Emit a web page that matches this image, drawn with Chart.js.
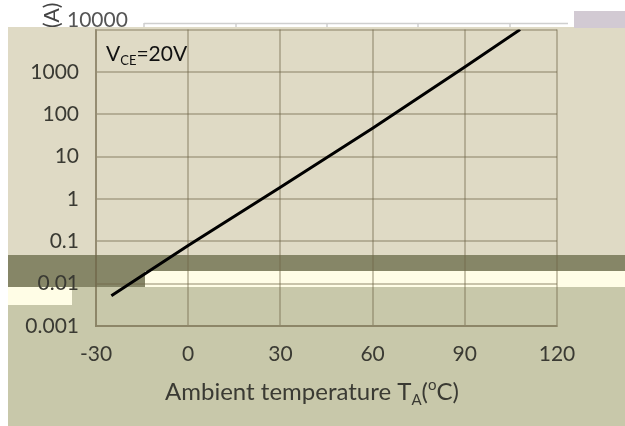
<!DOCTYPE html>
<html>
<head>
<meta charset="utf-8">
<script src="https://cdn.jsdelivr.net/npm/chart.js@4/dist/chart.umd.min.js"></script>
<style>
    body { margin: 0; background: #ffffff; }
    #wrap { width: 625px; height: 426px; position: relative; }
</style>
</head>
<body>
<div id="wrap"><canvas id="chart"></canvas></div>
<script>
// readings taken off the reference curve
const temps = [-25, 0, 30, 60, 90, 108];
const current = [0.0052, 0.08, 1.9, 47, 1300, 10000];

const xTicks = [-30, 0, 30, 60, 90, 120];
const yTicks = [0.001, 0.01, 0.1, 1, 10, 100, 1000, 10000];

const fontFamily = 'Lato, "Open Sans", sans-serif';
const tickFont = { family: fontFamily, size: 21 };
const textColor = '#3a3a33';

// paints the patchy background of the scanned figure
const backdrop = {
    id: 'backdrop',
    beforeDraw(chart) {
        const ctx = chart.ctx;
        ctx.save();
        ctx.fillStyle = '#ffffff';
        ctx.fillRect(0, 0, 625, 426);
        ctx.fillStyle = '#dfdac5';
        ctx.fillRect(8, 27, 617, 228);
        ctx.fillStyle = '#868667';
        ctx.fillRect(8, 255, 617, 16);
        ctx.fillRect(8, 271, 137, 16);
        ctx.fillStyle = '#fffde6';
        ctx.fillRect(145, 271, 480, 16);
        ctx.fillStyle = '#c8c8aa';
        ctx.fillRect(8, 287, 617, 139);
        ctx.fillStyle = '#fffde6';
        ctx.fillRect(8, 287, 64, 18);
        ctx.restore();
    }
};

// subscripted labels that Chart.js titles can't do, plus the torn top strip
const labels = {
    id: 'labels',
    afterDraw(chart) {
        const ctx = chart.ctx;
        ctx.save();

        // white strip across the top
        ctx.fillStyle = '#ffffff';
        ctx.fillRect(0, 0, 625, 27);
        ctx.fillStyle = '#d2cad3';
        ctx.fillRect(574, 11, 51, 17);
        ctx.strokeStyle = '#cfcfcf';
        ctx.lineWidth = 1.5;
        ctx.beginPath();
        ctx.moveTo(144, 23.5);
        ctx.lineTo(568, 23.5);
        [144, 236, 327, 418, 510].forEach(gx => {
            ctx.moveTo(gx, 23);
            ctx.lineTo(gx, 27);
        });
        ctx.stroke();
        ctx.fillStyle = '#555555';
        ctx.font = '21px ' + fontFamily;
        ctx.textBaseline = 'middle';
        ctx.fillText('10000', 67, 20);

        ctx.save();
        ctx.beginPath();
        ctx.rect(0, 0, 66, 27);
        ctx.clip();
        ctx.translate(52, 20);
        ctx.rotate(-Math.PI / 2);
        ctx.font = '21px ' + fontFamily;
        ctx.fillStyle = '#444444';
        ctx.fillText('(A)', -8, 0);
        ctx.restore();

        ctx.textBaseline = 'alphabetic';
        ctx.fillStyle = '#111111';
        let x = 106;
        ctx.font = '21px ' + fontFamily;
        ctx.fillText('V', x, 61);
        x += ctx.measureText('V').width;
        ctx.font = '13px ' + fontFamily;
        ctx.fillText('CE', x, 65);
        x += ctx.measureText('CE').width;
        ctx.font = '21px ' + fontFamily;
        ctx.fillText('=20V', x, 61);

        // x axis title
        ctx.fillStyle = textColor;
        const big = '24px ' + fontFamily;
        const small = '15px ' + fontFamily;
        const parts = [
            ['Ambient temperature T', big, 0],
            ['A', small, 5],
            ['(', big, 0],
            ['o', small, -10],
            ['C)', big, 0]
        ];
        let w = 0;
        parts.forEach(p => { ctx.font = p[1]; w += ctx.measureText(p[0]).width; });
        x = 312 - w / 2;
        parts.forEach(p => {
            ctx.font = p[1];
            ctx.fillText(p[0], x, 400 + p[2]);
            x += ctx.measureText(p[0]).width;
        });
        ctx.restore();
    }
};

new Chart(document.getElementById('chart'), {
    type: 'scatter',
    data: {
        datasets: [{
            data: temps.map((t, i) => ({ x: t, y: current[i] })),
            showLine: true,
            borderColor: '#000000',
            borderWidth: 3,
            pointRadius: 0,
            fill: false
        }]
    },
    options: {
        responsive: true,
        maintainAspectRatio: false,
        animation: false,
        layout: { padding: { top: 22, right: 68, bottom: 0, left: 0 } },
        plugins: {
            legend: { display: false },
            tooltip: { enabled: false }
        },
        scales: {
            x: {
                type: 'linear',
                min: -30,
                max: 120,
                afterBuildTicks: s => { s.ticks = xTicks.map(v => ({ value: v })); },
                afterFit: s => { s.height = 100; },
                grid: { color: 'rgba(110,100,70,0.38)', lineWidth: 2, drawTicks: false },
                border: { color: 'rgba(110,100,70,0.45)', width: 2 },
                ticks: { font: tickFont, color: textColor, padding: 16 }
            },
            y: {
                type: 'logarithmic',
                min: 0.001,
                max: 10000,
                afterBuildTicks: s => { s.ticks = yTicks.map(v => ({ value: v })); },
                afterFit: s => { s.width = 96; },
                grid: { color: 'rgba(110,100,70,0.38)', lineWidth: 2, drawTicks: false },
                border: { color: 'rgba(110,100,70,0.45)', width: 2 },
                ticks: {
                    font: tickFont, color: textColor, padding: 17,
                    // top label sits in the torn strip and is drawn by hand
                    callback: v => (v === 10000 ? '' : String(v))
                }
            }
        }
    },
    plugins: [backdrop, labels]
});
</script>
</body>
</html>
